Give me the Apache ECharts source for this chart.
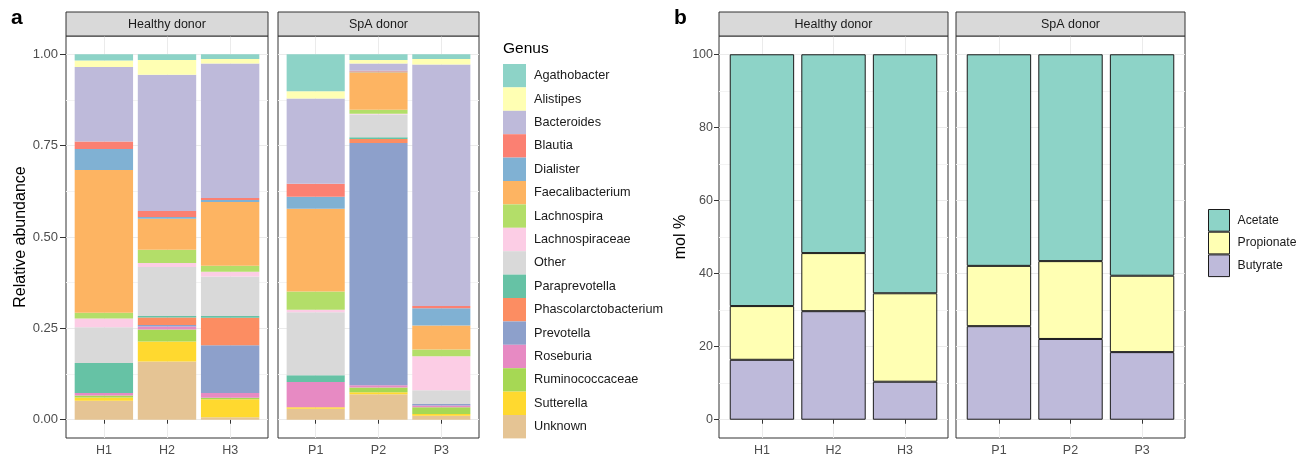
<!DOCTYPE html>
<html><head><meta charset="utf-8">
<script src="https://cdn.jsdelivr.net/npm/echarts@6/dist/echarts.min.js"></script>
<style>html,body{margin:0;padding:0;background:#fff}#c{width:1309px;height:460px}</style>
</head><body><div id="c"></div>
<script>
// ---------- DATA ----------
const healthySamples = ['H1', 'H2', 'H3'];
const spaSamples = ['P1', 'P2', 'P3'];
const genera = ['Agathobacter','Alistipes','Bacteroides','Blautia','Dialister','Faecalibacterium','Lachnospira','Lachnospiraceae','Other','Paraprevotella','Phascolarctobacterium','Prevotella','Roseburia','Ruminococcaceae','Sutterella','Unknown'];
const genusColors = ['#8DD3C7','#FFFFB3','#BEBADA','#FB8072','#80B1D3','#FDB462','#B3DE69','#FCCDE5','#D9D9D9','#66C2A5','#FC8D62','#8DA0CB','#E78AC3','#A6D854','#FFD92F','#E5C494'];
// relative abundance, order: H1, H2, H3, P1, P2, P3
const agathobacter          = [0.017, 0.016, 0.013, 0.101, 0.016, 0.013];
const alistipes             = [0.018, 0.040, 0.012, 0.020, 0.009, 0.015];
const bacteroides           = [0.204, 0.373, 0.368, 0.233, 0.020, 0.661];
const blautia               = [0.020, 0.016, 0.006, 0.036, 0.002, 0.006];
const dialister             = [0.058, 0.005, 0.005, 0.033, 0.002, 0.047];
const faecalibacterium      = [0.390, 0.085, 0.175, 0.226, 0.103, 0.066];
const lachnospira           = [0.016, 0.036, 0.016, 0.050, 0.011, 0.018];
const lachnospiraceae       = [0.024, 0.011, 0.013, 0.007, 0.002, 0.093];
const other                 = [0.098, 0.134, 0.108, 0.172, 0.062, 0.038];
const paraprevotella        = [0.082, 0.004, 0.005, 0.019, 0.005, 0.000];
const phascolarctobacterium = [0.000, 0.021, 0.075, 0.000, 0.011, 0.000];
const prevotella            = [0.000, 0.004, 0.131, 0.000, 0.663, 0.004];
const roseburia             = [0.007, 0.008, 0.013, 0.069, 0.006, 0.005];
const ruminococcaceae       = [0.005, 0.033, 0.004, 0.000, 0.013, 0.018];
const sutterella            = [0.009, 0.055, 0.049, 0.004, 0.005, 0.005];
const unknown               = [0.052, 0.159, 0.007, 0.030, 0.070, 0.011];
const genusValues = [agathobacter, alistipes, bacteroides, blautia, dialister, faecalibacterium, lachnospira, lachnospiraceae, other, paraprevotella, phascolarctobacterium, prevotella, roseburia, ruminococcaceae, sutterella, unknown];

const acids = ['Acetate', 'Propionate', 'Butyrate'];
const acidColors = ['#8DD3C7', '#FFFFB3', '#BEBADA'];
// mol %, order: H1, H2, H3, P1, P2, P3
const acetate    = [68.9, 54.4, 65.4, 57.9, 56.6, 60.6];
const propionate = [14.7, 15.9, 24.2, 16.5, 21.3, 20.9];
const butyrate   = [16.4, 29.7, 10.4, 25.6, 22.1, 18.5];
const acidValues = [acetate, propionate, butyrate];

const yTicksA = [0, 0.25, 0.5, 0.75, 1];
const yTicksB = [0, 20, 40, 60, 80, 100];
const facetLabels = ['Healthy donor', 'SpA donor'];

// ---------- LAYOUT ----------
const FONT = '"Liberation Sans", Arial, Helvetica, sans-serif';
const PT = 36, PH = 402, STRIP_Y = 12, STRIP_H = 24;

const grid = [], xAxis = [], yAxis = [], series = [], graphic = [];

function addFacet(f) {
  const gi = grid.length;
  const lo = f.ticks[0], hi = f.ticks[f.ticks.length - 1], span = hi - lo;
  // frame
  grid.push({ left: f.L, top: PT, width: f.W, height: PH, show: true, borderColor: '#333333', borderWidth: 1, backgroundColor: 'transparent' });
  xAxis.push({ type: 'value', gridIndex: gi, show: false });
  yAxis.push({ type: 'value', gridIndex: gi, show: false });
  // horizontal grid lines + y axis
  grid.push({ left: f.L, top: PT + PH * 0.05 / 1.1, width: f.W, height: PH / 1.1 });
  xAxis.push({ type: 'value', gridIndex: gi + 1, show: false });
  const ya = {
    type: 'value', gridIndex: gi + 1, min: lo, max: hi, interval: f.ticks[1] - f.ticks[0],
    axisLine: { show: false },
    axisTick: { show: f.showY, length: f.tickLen, lineStyle: { color: '#333333' } },
    axisLabel: { show: f.showY, margin: f.labMargin, color: '#4d4d4d', fontSize: f.yFont, fontFamily: FONT,
      formatter: v => f.dec ? v.toFixed(2) : String(v) },
    splitLine: { show: true, lineStyle: { color: '#ebebeb', width: 1 } },
    minorTick: { show: false, splitNumber: 2 },
    minorSplitLine: { show: true, lineStyle: { color: '#f3f3f3', width: 1 } }
  };
  if (f.yName) {
    Object.assign(ya, { name: f.yName, nameLocation: 'middle', nameGap: f.nameGap,
      nameTextStyle: { fontSize: 16, color: '#000', fontFamily: FONT } });
  }
  yAxis.push(ya);
  // bars
  grid.push({ left: f.L + f.W * 0.1 / 3.2, top: PT, width: f.W * 3 / 3.2, height: PH });
  xAxis.push({
    type: 'category', gridIndex: gi + 2, data: f.cats,
    axisLine: { show: false },
    axisTick: { show: true, alignWithLabel: true, length: 4, lineStyle: { color: '#333333' } },
    axisLabel: { margin: 6, color: '#4d4d4d', fontSize: 12.5, fontFamily: FONT },
    splitLine: { show: true, alignWithLabel: true, lineStyle: { color: '#ebebeb', width: 1 } }
  });
  yAxis.push({ type: 'value', gridIndex: gi + 2, min: lo - 0.05 * span, max: hi + 0.05 * span, show: false });
  // strip
  graphic.push({ type: 'rect', shape: { x: f.L, y: STRIP_Y, width: f.W, height: STRIP_H },
    style: { fill: '#d9d9d9', stroke: '#333333', lineWidth: 1 }, z: 10 });
  graphic.push({ type: 'text', x: f.L + f.W / 2, y: STRIP_Y + STRIP_H / 2 + 0.5, z: 11,
    style: { text: f.strip, fill: '#1a1a1a', fontSize: f.stripFont, fontFamily: FONT, align: 'center', verticalAlign: 'middle' } });
  return gi + 2;
}

const fa = [
  { L: 66, W: 202, cats: healthySamples, ticks: yTicksA, showY: true, dec: true, yName: 'Relative abundance', nameGap: 36, strip: facetLabels[0], tickLen: 6, labMargin: 8, yFont: 13, stripFont: 12.5 },
  { L: 278, W: 201, cats: spaSamples, ticks: yTicksA, showY: false, dec: true, strip: facetLabels[1], tickLen: 6, labMargin: 8, yFont: 13, stripFont: 12.5 }
];
const fb = [
  { L: 719, W: 229, cats: healthySamples, ticks: yTicksB, showY: true, dec: false, yName: 'mol %', nameGap: 29, strip: facetLabels[0], tickLen: 5, labMargin: 6, yFont: 12.5, stripFont: 12.5 },
  { L: 956, W: 229, cats: spaSamples, ticks: yTicksB, showY: false, dec: false, strip: facetLabels[1], tickLen: 5, labMargin: 6, yFont: 12.5, stripFont: 12.5 }
];

const aIdx = fa.map(addFacet);
const bIdx = fb.map(addFacet);

// panel a series (stack bottom -> top: Unknown ... Agathobacter)
aIdx.forEach((ax, k) => {
  for (let i = genera.length - 1; i >= 0; i--) {
    series.push({
      type: 'bar', name: genera[i], xAxisIndex: ax, yAxisIndex: ax, stack: 'a' + k,
      data: genusValues[i].slice(k * 3, k * 3 + 3),
      barCategoryGap: '7.5%', itemStyle: { color: genusColors[i] }
    });
  }
});
// panel b series
bIdx.forEach((ax, k) => {
  for (let i = acids.length - 1; i >= 0; i--) {
    series.push({
      type: 'bar', name: acids[i], xAxisIndex: ax, yAxisIndex: ax, stack: 'b' + k,
      data: acidValues[i].slice(k * 3, k * 3 + 3),
      barCategoryGap: '10%', itemStyle: { color: acidColors[i], borderColor: '#1a1a1a', borderWidth: 1 }
    });
  }
});

graphic.push({ type: 'text', x: 11, y: 8, style: { text: 'a', fontSize: 21, fontWeight: 'bold', fontFamily: FONT, fill: '#000' } });
graphic.push({ type: 'text', x: 674, y: 8, style: { text: 'b', fontSize: 21, fontWeight: 'bold', fontFamily: FONT, fill: '#000' } });
graphic.push({ type: 'text', x: 503, y: 49, style: { text: 'Genus', fontSize: 15.5, fontFamily: FONT, fill: '#000', verticalAlign: 'middle' } });

const option = {
  animation: false,
  backgroundColor: '#ffffff',
  grid, xAxis, yAxis, series, graphic,
  legend: [
    { data: genera, orient: 'vertical', left: 503, top: 64, padding: 0, itemWidth: 23, itemHeight: 23.4, itemGap: 0,
      icon: 'rect', selectedMode: false, itemStyle: { borderWidth: 0 },
      textStyle: { fontSize: 12.7, color: '#1a1a1a', fontFamily: FONT, padding: [0, 0, 0, 3] } },
    { data: acids, orient: 'vertical', left: 1208, top: 209, padding: 0, itemWidth: 21, itemHeight: 21.7, itemGap: 0,
      icon: 'rect', selectedMode: false, itemStyle: { borderColor: '#1a1a1a', borderWidth: 1 },
      textStyle: { fontSize: 12.2, color: '#1a1a1a', fontFamily: FONT, padding: [0, 0, 0, 3] } }
  ]
};

const chart = echarts.init(document.getElementById('c'), null, { renderer: 'canvas' });
chart.setOption(option);
</script>
</body></html>
